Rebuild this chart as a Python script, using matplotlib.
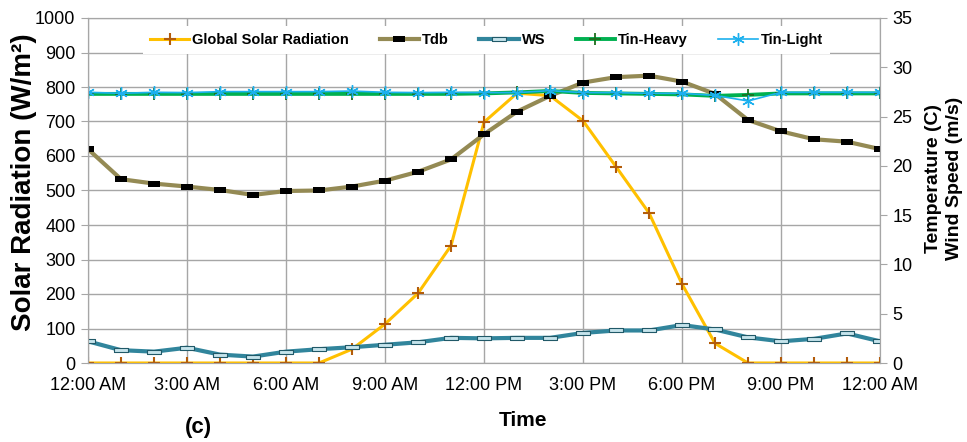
import numpy as np
import matplotlib
matplotlib.use('Agg')
import matplotlib.pyplot as plt

plt.rcParams['font.family'] = ['Liberation Sans', 'DejaVu Sans']

# Stunden 0..24 (12:00 AM bis 12:00 AM)
hours = list(range(25))
tick_hours = [0, 3, 6, 9, 12, 15, 18, 21, 24]
tick_labels = ['12:00 AM', '3:00 AM', '6:00 AM', '9:00 AM', '12:00 PM',
               '3:00 PM', '6:00 PM', '9:00 PM', '12:00 AM']

# Globalstrahlung (W/m2)
solar = [0, 0, 0, 0, 0, 0, 0, 0, 40, 113, 202, 340, 698, 782, 775, 702,
         569, 435, 229, 57, 0, 0, 0, 0, 0]

# Lufttemperatur Tdb (C)
tdb = [21.7, 18.65, 18.2, 17.9, 17.55, 17.05, 17.45, 17.5, 17.9, 18.5,
       19.4, 20.65, 23.2, 25.5, 27.1, 28.45, 29.0, 29.15, 28.55, 27.3,
       24.65, 23.5, 22.7, 22.45, 21.7]

# Windgeschwindigkeit (m/s)
ws = [2.2, 1.3, 1.15, 1.55, 0.85, 0.65, 1.15, 1.4, 1.6, 1.85, 2.1, 2.55,
      2.5, 2.55, 2.55, 3.05, 3.3, 3.3, 3.85, 3.4, 2.6, 2.2, 2.45, 3.0, 2.2]

# Innentemperaturen (C)
tin_heavy = [27.3, 27.3, 27.3, 27.3, 27.3, 27.3, 27.3, 27.3, 27.3, 27.3,
             27.3, 27.3, 27.35, 27.45, 27.6, 27.4, 27.35, 27.3, 27.25, 27.1,
             27.2, 27.35, 27.35, 27.35, 27.35]
tin_light = [27.46, 27.36, 27.46, 27.43, 27.53, 27.53, 27.53, 27.53, 27.59,
             27.46, 27.43, 27.46, 27.43, 27.43, 27.63, 27.43, 27.43, 27.36,
             27.36, 27.15, 26.58, 27.46, 27.46, 27.46, 27.46]

grid_c = '#A6A6A6'
rect = [(-2, -1), (2, -1), (2, 1), (-2, 1), (-2, -1)]
rect_ws = [(-2.5, -0.8), (2.5, -0.8), (2.5, 0.8), (-2.5, 0.8), (-2.5, -0.8)]

fig = plt.figure(figsize=(9.67, 4.42), dpi=100)
ax1 = fig.add_axes([88 / 967, 79 / 442, 792 / 967, 345 / 442])

sol_line, = ax1.plot(hours, solar, color='#FFC000', lw=2.2, marker='+',
                     ms=9, mew=1.5, mec='#B35C0A', label='Global Solar Radiation',
                     zorder=3)
ax1.set_xlim(0, 24)
ax1.set_ylim(0, 1000)
ax1.set_yticks(np.arange(0, 1001, 100))
ax1.set_xticks(tick_hours)
ax1.set_xticklabels(tick_labels)
ax1.grid(True, color=grid_c, lw=1.0)
ax1.set_axisbelow(True)
for s in ax1.spines.values():
    s.set_color(grid_c)
ax1.tick_params(axis='y', labelsize=13, length=5, color=grid_c, pad=4)
ax1.tick_params(axis='x', labelsize=13, length=0, pad=10)
ax1.set_ylabel('Solar Radiation (W/m²)', fontsize=20, fontweight='bold')
ax1.yaxis.set_label_coords(-0.064, 0.525)

# zweite Achse fuer Temperatur und Wind
ax2 = ax1.twinx()
tdb_line, = ax2.plot(hours, tdb, color='#948A54', lw=3, marker=rect, ms=8,
                     mfc='black', mec='black', mew=0, label='Tdb')
ws_line, = ax2.plot(hours, ws, color='#31859C', lw=3, marker=rect_ws, ms=10,
                    mfc='#C6E4EC', mec='#215968', mew=0.8, label='WS')
th_line, = ax2.plot(hours, tin_heavy, color='#00B050', lw=2.8, marker='+',
                    ms=8, mew=1.3, mec='#1E6E1E', label='Tin-Heavy')
tl_line, = ax2.plot(hours, tin_light, color='#1CB0EE', lw=1.2, marker=(6, 2, 0),
                    ms=9, mew=1.0, mec='#1CB0EE', label='Tin-Light')
ax2.set_ylim(0, 35)
ax2.set_yticks(np.arange(0, 36, 5))
for s in ax2.spines.values():
    s.set_color(grid_c)
ax2.tick_params(axis='y', labelsize=13, length=5, color=grid_c, pad=4)
ax2.set_ylabel('Temperature (C)\nWind Speed (m/s)', fontsize=14,
               fontweight='bold', linespacing=1.3)
ax2.yaxis.set_label_coords(1.057, 0.536)

lines = [sol_line, tdb_line, ws_line, th_line, tl_line]
leg = ax2.legend(lines, [l.get_label() for l in lines], loc='center',
                 bbox_to_anchor=(0.503, 0.936), ncol=5, numpoints=1,
                 frameon=True, facecolor='white', edgecolor='none',
                 framealpha=1, fancybox=False, handlelength=2.7,
                 handletextpad=0.2, columnspacing=2.1, borderpad=0.5,
                 prop={'size': 10.5, 'weight': 'bold'})

# Achsentitel und Panelbuchstabe wie im Original
fig.text(523 / 967, 1 - 420 / 442, 'Time', fontsize=15, fontweight='bold',
         ha='center', va='center')
fig.text(198 / 967, 1 - 427 / 442, '(c)', fontsize=16, fontweight='bold',
         ha='center', va='center')

fig.savefig('out.png', dpi=100)
